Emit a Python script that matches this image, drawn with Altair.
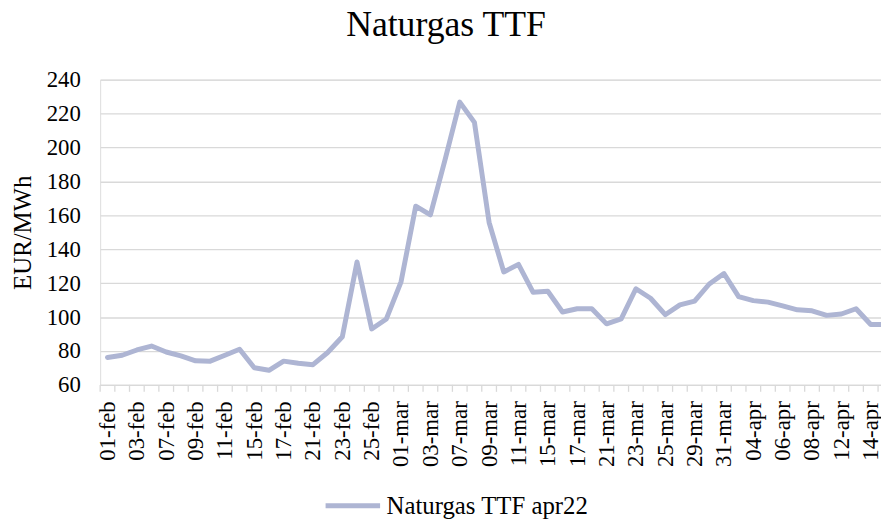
import json
import altair as alt
import pandas as pd

dates = [
    "01-feb", "02-feb", "03-feb", "04-feb", "07-feb", "08-feb", "09-feb", "10-feb", "11-feb", "14-feb",
    "15-feb", "16-feb", "17-feb", "18-feb", "21-feb", "22-feb", "23-feb", "24-feb", "25-feb", "28-feb",
    "01-mar", "02-mar", "03-mar", "04-mar", "07-mar", "08-mar", "09-mar", "10-mar", "11-mar", "14-mar",
    "15-mar", "16-mar", "17-mar", "18-mar", "21-mar", "22-mar", "23-mar", "24-mar", "25-mar", "28-mar",
    "29-mar", "30-mar", "31-mar", "01-apr", "04-apr", "05-apr", "06-apr", "07-apr", "08-apr", "11-apr",
    "12-apr", "13-apr", "14-apr", "19-apr",
]
prices = [
    76.2, 77.5, 80.6, 82.9, 79.4, 77.1, 74.2, 74.0, 77.5, 81.0,
    70.1, 68.6, 74.0, 72.8, 71.9, 79.1, 88.4, 132.5, 93.0, 98.9,
    120.8, 165.4, 160.3, 192.8, 226.8, 214.8, 155.8, 126.6, 131.1, 114.6,
    115.2, 103.0, 104.9, 104.9, 96.0, 98.9, 116.7, 111.1, 101.4, 107.2,
    109.4, 119.5, 125.7, 112.1, 109.7, 108.8, 106.6, 104.3, 103.7, 101.0,
    101.8, 104.9, 95.6, 95.6,
]
series_name = "Naturgas TTF apr22"
y_ticks = [60, 80, 100, 120, 140, 160, 180, 200, 220, 240]

FONT = "Liberation Serif"
LINE_COLOR = "#AEB5D3"
GRID = "#D9D9D9"
W, H = 788, 308
X_MAX = 52.7

idx = list(range(len(dates)))
df = pd.DataFrame({"idx": idx, "date": dates, "price": prices, "series": [series_name] * len(dates)})
tick_pos = [i - 0.5 for i in idx if i - 0.5 <= X_MAX]
ticks_df = pd.DataFrame({"idx": tick_pos})
label_vals = [i for i in idx if i % 2 == 0 and i <= X_MAX]

xscale = alt.Scale(domain=[-0.5, X_MAX], nice=False, zero=False)
yscale = alt.Scale(domain=[60, 240], nice=False, zero=False)

x_axis = alt.Axis(
    values=label_vals,
    labelExpr=json.dumps(dates) + "[datum.value]",
    labelAngle=-90, labelFont=FONT, labelFontSize=23, labelColor="black",
    labelPadding=16, ticks=False, grid=False, domain=True,
    domainColor=GRID, domainWidth=1.3, title=None, labelOverlap=False,
    labelFlush=False, labelBound=False,
)

line = alt.Chart(df).mark_line(
    strokeWidth=5, strokeCap="round", strokeJoin="round", clip=True
).encode(
    x=alt.X("idx:Q", scale=xscale, axis=x_axis),
    y=alt.Y("price:Q", scale=yscale, axis=alt.Axis(
        values=y_ticks, labelFont=FONT, labelFontSize=23, labelColor="black",
        labelPadding=20, ticks=False, domain=False, grid=True, gridColor=GRID,
        gridWidth=1.3, title="EUR/MWh", titleFont=FONT, titleFontSize=25,
        titleFontWeight="normal", titleColor="black", titleAngle=-90,
        titleX=-78, titleY=154, titleAlign="center", titleBaseline="middle",
        labelOverlap=False, labelFlush=False,
    )),
    color=alt.Color("series:N", scale=alt.Scale(range=[LINE_COLOR]), legend=alt.Legend(
        title=None, orient="none", legendX=225, legendY=400, padding=0,
        symbolType="stroke", symbolSize=3025, symbolStrokeWidth=5,
        labelFont=FONT, labelFontSize=25, labelColor="black", labelOffset=4,
        labelLimit=500,
    )),
)

tick_rules = alt.Chart(ticks_df).mark_rule(color=GRID, strokeWidth=1.3).encode(
    x=alt.X("idx:Q", scale=xscale, axis=x_axis),
    y=alt.value(H),
    y2=alt.value(H + 7),
)

chart = alt.layer(line, tick_rules).properties(
    width=W, height=H,
    title=alt.TitleParams("Naturgas TTF", font=FONT, fontSize=36, fontWeight="normal",
                          color="black", anchor="middle", dx=-45, offset=25),
    autosize=alt.AutoSizeParams(type="none"),
    padding={"left": 93, "top": 70, "right": 0, "bottom": 135},
).configure_view(stroke=None).configure(background="white").configure_axis(
    labelFont=FONT, titleFont=FONT
).configure_legend(labelFont=FONT)

chart.save("out.html", embed_options={"renderer": "svg", "actions": False})
